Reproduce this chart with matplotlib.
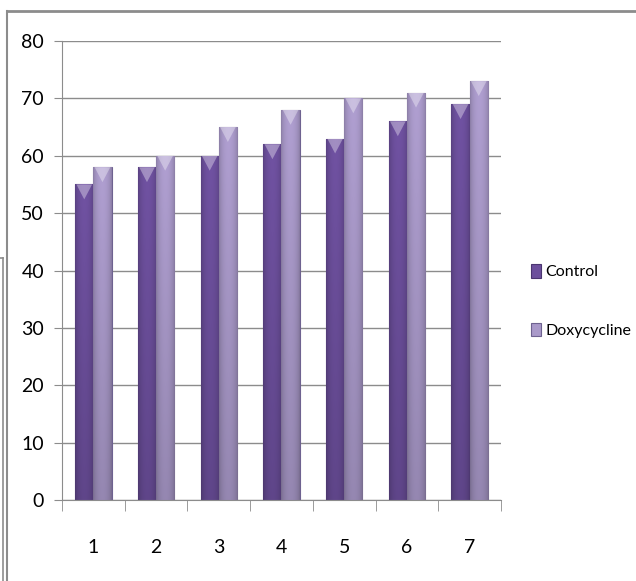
import numpy as np
import matplotlib.pyplot as plt
from matplotlib.lines import Line2D

plt.rcParams['font.family'] = ['Lato', 'DejaVu Sans']

groups = [1, 2, 3, 4, 5, 6, 7]
control = [55, 58, 60, 62, 63, 66, 69]
doxy = [58, 60, 65, 68, 70, 71, 73]
series_names = ['Control', 'Doxycycline']
series_colors = ['#6c4f9c', '#a999c9']
yticks = [0, 10, 20, 30, 40, 50, 60, 70, 80]

fig = plt.figure(figsize=(6.36, 5.81), dpi=100)
ax = fig.add_axes([62/636, 1 - 500/581, (501-62)/636, (500-41)/581])

x = np.arange(len(groups)) + 1
w = 0.29


def shade(bars, color):
    # horizontal gradient inside each bar, darker at the edges and bottom
    base = np.array(plt.matplotlib.colors.to_rgb(color))
    u = np.linspace(0, 1, 40)
    v = np.linspace(0, 1, 60)
    hx = 0.82 + 0.22 * np.sin(np.pi * u) ** 0.6
    vy = 0.85 + 0.15 * v
    img = np.clip(base[None, None, :] * hx[None, :, None] * vy[:, None, None], 0, 1)
    for b in bars:
        x0, y0 = b.get_x(), b.get_y()
        im = ax.imshow(img, extent=[x0, x0 + b.get_width(), y0, y0 + b.get_height()],
                       origin='lower', aspect='auto', zorder=2, interpolation='bilinear')
        im.set_clip_path(b)
        # light triangle at the top of the bar
        top = y0 + b.get_height()
        tri = plt.Polygon([[x0 + 0.02, top], [x0 + b.get_width() - 0.02, top],
                           [x0 + b.get_width() / 2, top - 2.6]],
                          closed=True, facecolor='white', alpha=0.35, lw=0, zorder=3)
        ax.add_patch(tri)


b1 = ax.bar(x - w / 2, control, w, color=series_colors[0], edgecolor='#4a3570',
            linewidth=0.8, zorder=2, label=series_names[0])
b2 = ax.bar(x + w / 2, doxy, w, color=series_colors[1], edgecolor='#6e6290',
            linewidth=0.8, zorder=2, label=series_names[1])
shade(b1, series_colors[0])
shade(b2, series_colors[1])

ax.set_xlim(0.5, len(groups) + 0.5)
ax.set_ylim(0, 80)
ax.set_yticks(yticks)
ax.set_yticklabels([str(t) for t in yticks], fontsize=14)
ax.set_xticks(x)
ax.set_xticklabels([str(g) for g in groups], fontsize=14)
ax.set_xticks(np.arange(len(groups) + 1) + 0.5, minor=True)
ax.tick_params(axis='x', which='major', length=0, pad=28)
ax.tick_params(axis='x', which='minor', length=8, color='#8c8c8c')
ax.tick_params(axis='y', length=6, color='#8c8c8c', pad=7)

ax.yaxis.grid(True, color='#8c8c8c', linewidth=1)
ax.set_axisbelow(True)
for s in ['top', 'right']:
    ax.spines[s].set_visible(False)
for s in ['left', 'bottom']:
    ax.spines[s].set_color('#8c8c8c')

fig.legend(handles=[b1, b2], labels=series_names, loc='center left',
           bbox_to_anchor=(523/636, 1 - 301/581), frameon=False, fontsize=11.5,
           borderpad=0, handlelength=0.65, handleheight=0.95, handletextpad=0.25,
           labelspacing=2.7)

# outer chart border
fig.add_artist(Line2D([7/636, 1], [1 - 10.5/581] * 2, color='#8c8c8c', lw=2))
fig.add_artist(Line2D([7/636, 7/636], [0, 1 - 10.5/581], color='#8c8c8c', lw=1.5))
fig.add_artist(Line2D([3/636, 3/636], [0, 1 - 258/581], color='#8c8c8c', lw=1.2))
fig.add_artist(Line2D([0, 3/636], [1 - 258/581] * 2, color='#8c8c8c', lw=1.2))

fig.savefig('out.png', dpi=100)
